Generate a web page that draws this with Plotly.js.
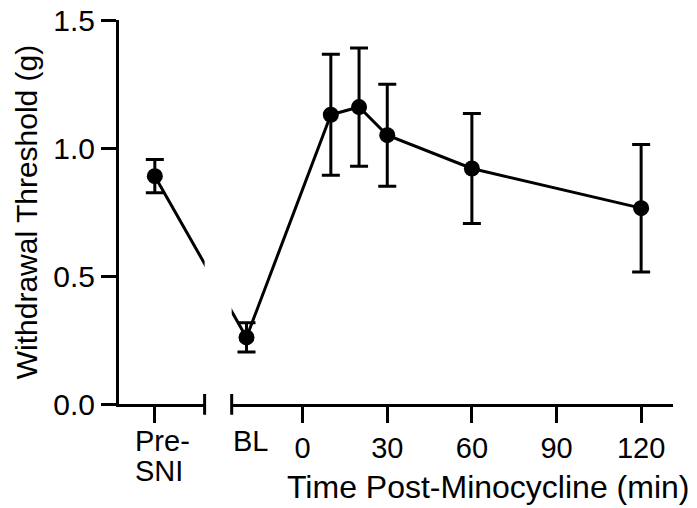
<!DOCTYPE html>
<html>
<head>
<meta charset="utf-8">
<script src="https://cdn.plot.ly/plotly-3.0.1.min.js"></script>
<style>
  html, body { margin: 0; padding: 0; background: #fff; }
  #chart { width: 697px; height: 508px; }
</style>
</head>
<body>
<div id="chart"></div>
<script>
// ---- Data ----
const categories = ['Pre-SNI', 'BL', '10', '20', '30', '60', '120'];
const timeMin = [10, 20, 30, 60, 120];             // minutes post-minocycline
const threshold = [0.89, 0.26, 1.13, 1.16, 1.05, 0.92, 0.765];   // mean withdrawal threshold (g)
const sem = [0.065, 0.057, 0.236, 0.231, 0.199, 0.215, 0.249];   // error (g)
const xTickVals = [0, 30, 60, 90, 120];
const xTickText = ['0', '30', '60', '90', '120'];
const preLabelLines = ['Pre-', 'SNI'];
const blLabel = 'BL';
const yTickVals = [0, 0.5, 1.0, 1.5];
const yTickText = ['0.0', '0.5', '1.0', '1.5'];

// ---- Layout positions of the broken-axis section (axis units) ----
const PRE_X = -52.4;   // where "Pre-SNI" sits on the axis
const BL_X = -19.9;    // where "BL" sits on the axis
const BREAK_L = -34.75;
const BREAK_R = -25.15;

const xs = [PRE_X, BL_X].concat(timeMin);

const FONT = 'Liberation Sans, Arial, Helvetica, sans-serif';

const trace = {
  x: xs,
  y: threshold,
  text: categories,
  type: 'scatter',
  mode: 'lines+markers',
  line: { color: '#000', width: 3 },
  marker: { color: '#000', size: 16 },
  error_y: { type: 'data', array: sem, visible: true, color: '#000', thickness: 3, width: 9 },
  hoverinfo: 'skip',
  cliponaxis: false
};

const layout = {
  width: 697,
  height: 508,
  margin: { l: 119, r: 24, t: 20, b: 104 },
  paper_bgcolor: '#fff',
  plot_bgcolor: '#fff',
  showlegend: false,
  font: { family: FONT, color: '#000' },
  xaxis: {
    range: [-65.1, 131.3],
    showgrid: false,
    zeroline: false,
    showline: true,
    linecolor: '#000',
    linewidth: 3,
    ticks: 'outside',
    ticklen: 16,
    tickwidth: 3,
    tickcolor: '#000',
    tickvals: [PRE_X].concat(xTickVals),
    ticktext: [''].concat(xTickText),
    tickfont: { family: FONT, size: 29, color: '#000' },
    automargin: false,
    fixedrange: true
  },
  yaxis: {
    range: [0, 1.5],
    showgrid: false,
    zeroline: false,
    showline: true,
    linecolor: '#000',
    linewidth: 3,
    ticks: 'outside',
    ticklen: 15,
    tickwidth: 3,
    tickcolor: '#000',
    tickvals: yTickVals,
    ticktext: yTickText,
    tickfont: { family: FONT, size: 30, color: '#000' },
    title: { text: 'Withdrawal Threshold (g)', font: { family: FONT, size: 30, color: '#000' }, standoff: 7 },
    automargin: false,
    fixedrange: true
  },
  shapes: [
    { type: 'rect', xref: 'x', yref: 'paper', x0: BREAK_L, x1: BREAK_R, y0: -0.03, y1: 1.02,
      fillcolor: '#fff', line: { width: 0 }, layer: 'above' },
    { type: 'line', xref: 'x', yref: 'paper', x0: BREAK_L, x1: BREAK_L, y0: -0.028, y1: 0.026,
      line: { color: '#000', width: 3 }, layer: 'above' },
    { type: 'line', xref: 'x', yref: 'paper', x0: BREAK_R, x1: BREAK_R, y0: -0.028, y1: 0.026,
      line: { color: '#000', width: 3 }, layer: 'above' }
  ],
  annotations: [
    { text: preLabelLines[0], xref: 'x', yref: 'paper', x: PRE_X - 7.8, y: -0.049, xanchor: 'left', yanchor: 'top',
      showarrow: false, font: { family: FONT, size: 29, color: '#000' } },
    { text: preLabelLines[1], xref: 'x', yref: 'paper', x: PRE_X - 7.8, y: -0.127, xanchor: 'left', yanchor: 'top',
      showarrow: false, font: { family: FONT, size: 29, color: '#000' } },
    { text: blLabel, xref: 'x', yref: 'paper', x: BL_X + 1.5, y: -0.049, xanchor: 'center', yanchor: 'top',
      showarrow: false, font: { family: FONT, size: 29, color: '#000' } },
    { text: 'Time Post-Minocycline (min)', xref: 'paper', yref: 'paper', x: 0.666, y: -0.215, xanchor: 'center', yanchor: 'middle',
      showarrow: false, font: { family: FONT, size: 32, color: '#000' } }
  ]
};

Plotly.newPlot('chart', [trace], layout, { staticPlot: true, displayModeBar: false });
</script>
</body>
</html>
